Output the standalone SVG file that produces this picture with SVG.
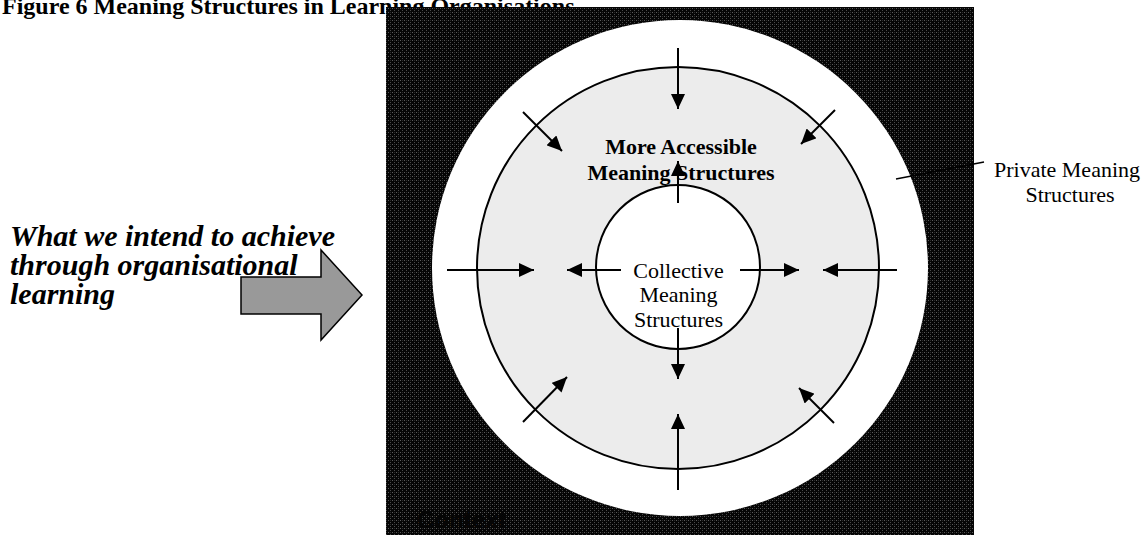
<svg xmlns="http://www.w3.org/2000/svg" width="1146" height="535" viewBox="0 0 1146 535">
<style>
.serif{font-family:"Liberation Serif","Times New Roman",serif;fill:#000}
.b{font-weight:bold}
.lbl{font-size:22px}
.ctx{font-family:"Liberation Sans",Arial,sans-serif;font-weight:bold;font-size:24px;fill:#050505}
.arr{stroke:#000;stroke-width:2;fill:none;marker-end:url(#ah)}
.ring{stroke:#000;stroke-width:2}
</style>
<defs>
<marker id="ah" markerUnits="userSpaceOnUse" markerWidth="16" markerHeight="14" refX="15" refY="7" orient="auto" viewBox="0 0 16 14">
<path d="M0,0 L15,7 L0,14 Z" fill="#000"/>
</marker>
<pattern id="dots" width="4" height="4" patternUnits="userSpaceOnUse">
<rect width="4" height="4" fill="#050505"/>
<rect x="0" y="0" width="1" height="1" fill="#5a5a5a"/>
<rect x="2" y="2" width="1" height="1" fill="#4a4a4a"/>
<rect x="2" y="0" width="1" height="1" fill="#2a2a2a"/>
</pattern>
</defs>
<rect width="1146" height="535" fill="#fff"/>
<g id="title">
<text class="serif b" x="2" y="14" font-size="24">Figure 6 Meaning Structures in Learning Organisations</text>
</g>
<g id="context">
<rect x="386" y="7" width="588" height="528" fill="url(#dots)"/>
<text class="ctx" x="417" y="528">Context</text>
</g>
<g id="private">
<circle cx="680" cy="268" r="248" fill="#fff"/>
</g>
<g id="accessible">
<circle class="ring" cx="678" cy="268" r="201" fill="#ececec"/>
</g>
<g id="collective">
<circle class="ring" cx="678" cy="267" r="82" fill="#fff"/>
</g>
<g id="connectors">
<line class="arr" x1="447" y1="270" x2="534" y2="270"/>
<line class="arr" x1="621" y1="270" x2="567" y2="270"/>
<line class="arr" x1="740" y1="270" x2="799" y2="270"/>
<line class="arr" x1="897" y1="270" x2="823" y2="270"/>
<line class="arr" x1="678" y1="48" x2="678" y2="109"/>
<line class="arr" x1="678" y1="203" x2="678" y2="161"/>
<line class="arr" x1="678" y1="328" x2="678" y2="379"/>
<line class="arr" x1="678" y1="490" x2="678" y2="414"/>
<line class="arr" x1="523" y1="112" x2="562" y2="151"/>
<line class="arr" x1="835" y1="110" x2="801" y2="144"/>
<line class="arr" x1="523" y1="422" x2="567" y2="377"/>
<line class="arr" x1="834" y1="423" x2="799" y2="388"/>
<line x1="896" y1="179" x2="984" y2="162" stroke="#000" stroke-width="1.5"/>
</g>
<g id="labels">
<text class="serif b lbl" text-anchor="middle" x="681" y="154">More Accessible</text>
<text class="serif b lbl" text-anchor="middle" x="681" y="180">Meaning Structures</text>
<text class="serif lbl" text-anchor="middle" x="678.5" y="278">Collective</text>
<text class="serif lbl" text-anchor="middle" x="678.5" y="302">Meaning</text>
<text class="serif lbl" text-anchor="middle" x="678.5" y="327">Structures</text>
<text class="serif lbl" text-anchor="middle" x="1067" y="177">Private Meaning</text>
<text class="serif lbl" text-anchor="middle" x="1070" y="202">Structures</text>
</g>
<g id="intent">
<text class="serif b" font-style="italic" font-size="30">
<tspan x="10" y="246">What we intend to achieve</tspan>
<tspan x="10" y="275">through organisational</tspan>
<tspan x="10" y="304">learning</tspan>
</text>
<path d="M241,277 L321,277 L321,250 L362,295 L321,340 L321,314 L241,314 Z" fill="#999" stroke="#000" stroke-width="1.5"/>
</g>
</svg>
